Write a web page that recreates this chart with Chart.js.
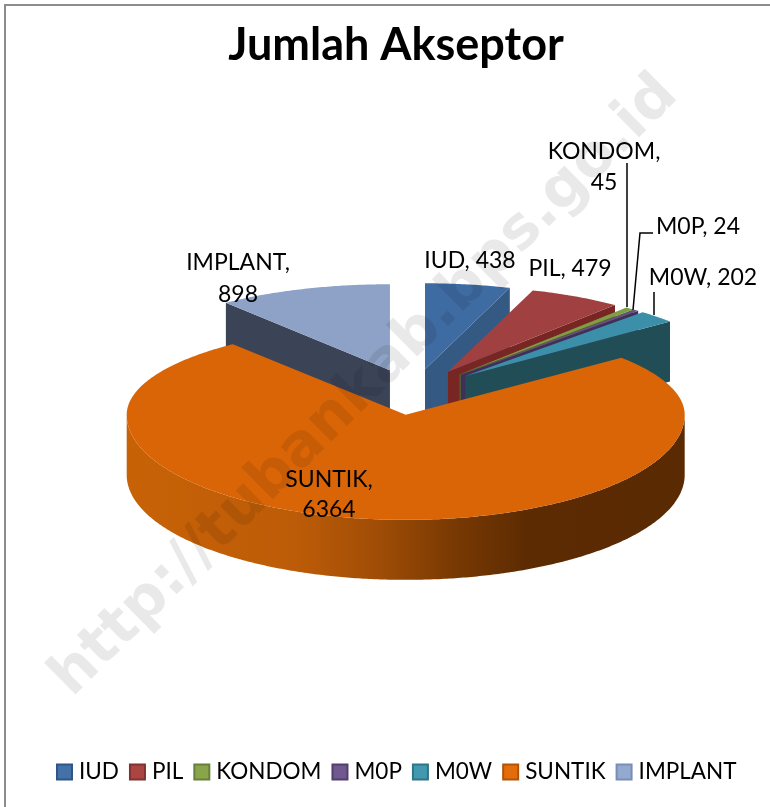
<!DOCTYPE html>
<html>
<head>
<meta charset="utf-8">
<title>Jumlah Akseptor</title>
<script src="https://cdn.jsdelivr.net/npm/chart.js@4"></script>
<style>
  html, body { margin: 0; padding: 0; background: #fff; }
  canvas { display: block; }
</style>
</head>
<body>
<canvas id="pieChart" width="770" height="807"></canvas>
<script>
'use strict';

const chartTitle = 'Jumlah Akseptor';
const watermark = 'http://tubankab.bps.go.id';
const categories = ['IUD', 'PIL', 'KONDOM', 'M0P', 'M0W', 'SUNTIK', 'IMPLANT'];
const values = [438, 479, 45, 24, 202, 6364, 898];

const legendColors = ['#4472a8', '#ab4542', '#89a54c', '#71588f', '#4198af', '#e46c0a', '#93a9cf'];
const legendBorders = ['#2f5485', '#803230', '#668039', '#533f6c', '#2e7487', '#b0540a', '#7a8eb5'];
const topColors = ['#3f6ba3', '#a04040', '#7f9d45', '#674f87', '#3c8fa8', '#d96507', '#8da2c6'];
const wallColors = ['#345a84', '#772624', '#50652a', '#412f5a', '#214d57', '#5c2b02', '#3b4356'];

// Pie geometry: everything else comes from the arc elements
const PIE = {
  cx: 413.4, cy: 392,
  explodeX: 71.6, explodeY: 23,
  radius: 265, backRy: 86, depth: 60,
  frontRadius: 279, frontBackRy: 90, frontRy: 105
};

// Where each data label sits; text itself is built from categories and values
const labelSpots = {
  IUD: { x: 470, y: 261 },
  PIL: { x: 570, y: 269 },
  KONDOM: { x: 604, y: 152, wrap: 31 },
  M0P: { x: 698, y: 227 },
  M0W: { x: 703, y: 278 },
  SUNTIK: { x: 329, y: 480, wrap: 30 },
  IMPLANT: { x: 238, y: 263, wrap: 32 }
};

function edgePoint(s, a) {
  return { x: s.ax + s.rx * Math.cos(a), y: s.ay + (Math.sin(a) < 0 ? s.ryBack : s.ryFront) * Math.sin(a) };
}

function sliceShape(arc) {
  const mid = (arc.startAngle + arc.endAngle) / 2;
  const front = Math.sin(mid) > 0;
  return {
    start: arc.startAngle,
    end: arc.endAngle,
    ax: PIE.cx + PIE.explodeX * Math.cos(mid),
    ay: PIE.cy + PIE.explodeY * Math.sin(mid),
    rx: front ? PIE.frontRadius : arc.outerRadius,
    ryBack: front ? PIE.frontBackRy : PIE.backRy,
    ryFront: front ? PIE.frontRy : PIE.backRy
  };
}

function fillSector(ctx, s, color) {
  ctx.beginPath();
  ctx.moveTo(s.ax, s.ay);
  for (let a = s.start; a < s.end; a += 0.01) {
    const p = edgePoint(s, a);
    ctx.lineTo(p.x, p.y);
  }
  const last = edgePoint(s, s.end);
  ctx.lineTo(last.x, last.y);
  ctx.closePath();
  ctx.fillStyle = color;
  ctx.fill();
}

function fillRadialWall(ctx, s, angle, color) {
  const p = edgePoint(s, angle);
  ctx.beginPath();
  ctx.moveTo(s.ax, s.ay);
  ctx.lineTo(p.x, p.y);
  ctx.lineTo(p.x, p.y + PIE.depth);
  ctx.lineTo(s.ax, s.ay + PIE.depth);
  ctx.closePath();
  ctx.fillStyle = color;
  ctx.fill();
}

function fillOuterWall(ctx, s) {
  const pts = [];
  for (let a = s.start; a <= s.end; a += 0.01) {
    if (Math.sin(a) >= 0) pts.push(edgePoint(s, a));
  }
  if (!pts.length) return;
  const grad = ctx.createLinearGradient(s.ax - s.rx, 0, s.ax + s.rx, 0);
  grad.addColorStop(0, '#c76206');
  grad.addColorStop(0.3, '#bd5c08');
  grad.addColorStop(0.45, '#a04d06');
  grad.addColorStop(0.58, '#7a3a03');
  grad.addColorStop(0.72, '#5c2b02');
  grad.addColorStop(1, '#5a2a03');
  ctx.beginPath();
  pts.forEach((p, i) => (i ? ctx.lineTo(p.x, p.y) : ctx.moveTo(p.x, p.y)));
  pts.slice().reverse().forEach(p => ctx.lineTo(p.x, p.y + PIE.depth));
  ctx.closePath();
  ctx.fillStyle = grad;
  ctx.fill();
}

function drawWatermark(ctx) {
  ctx.save();
  ctx.translate(72, 698);
  ctx.rotate(-0.78);
  ctx.font = 'bold 59px "DejaVu Sans"';
  ctx.textAlign = 'left';
  ctx.textBaseline = 'alphabetic';
  ctx.fillStyle = 'rgba(0,0,0,0.085)';
  ctx.fillText(watermark, 0, 0);
  ctx.restore();
}

function drawLabels(ctx) {
  ctx.font = '23px Lato';
  ctx.textAlign = 'center';
  ctx.textBaseline = 'middle';
  ctx.fillStyle = '#000';
  categories.forEach((name, i) => {
    const spot = labelSpots[name];
    if (spot.wrap) {
      ctx.fillText(name + ',', spot.x, spot.y);
      ctx.fillText(String(values[i]), spot.x, spot.y + spot.wrap);
    } else {
      ctx.fillText(name + ', ' + values[i], spot.x, spot.y);
    }
  });
  // leader lines for the thin slices
  ctx.strokeStyle = '#000';
  ctx.lineWidth = 1.5;
  ctx.beginPath();
  ctx.moveTo(627, 163); ctx.lineTo(627, 307);
  ctx.moveTo(653, 233); ctx.lineTo(640, 233); ctx.lineTo(633, 310);
  ctx.moveTo(654, 292); ctx.lineTo(654, 315);
  ctx.stroke();
}

// Chart.js ties the box-to-text gap to the font size, the original is tighter
function drawLegend(ctx) {
  let x = 57;
  const y = 772;
  ctx.font = '22.5px Lato';
  ctx.textAlign = 'left';
  ctx.textBaseline = 'middle';
  categories.forEach((name, i) => {
    ctx.fillStyle = legendColors[i];
    ctx.strokeStyle = legendBorders[i];
    ctx.lineWidth = 2;
    ctx.fillRect(x, y - 7.5, 15, 15);
    ctx.strokeRect(x, y - 7.5, 15, 15);
    x += 22;
    ctx.fillStyle = '#000';
    ctx.fillText(name, x, y);
    x += ctx.measureText(name).width + 11;
  });
}

function drawFrame(ctx) {
  ctx.strokeStyle = '#8c8c8c';
  ctx.lineWidth = 2;
  ctx.beginPath();
  ctx.moveTo(5, 807); ctx.lineTo(5, 5); ctx.lineTo(770, 5);
  ctx.stroke();
}

const pie3d = {
  id: 'pie3d',
  beforeDatasetsDraw(chart) {
    const ctx = chart.ctx;
    const arcs = chart.getDatasetMeta(0).data;
    // back to front: IMPLANT first, SUNTIK last
    const order = [6, 0, 1, 2, 3, 4, 5];
    ctx.save();
    drawFrame(ctx);
    order.forEach(i => {
      const s = sliceShape(arcs[i]);
      if (Math.cos(s.start) < -0.001) fillRadialWall(ctx, s, s.start, wallColors[i]);
      if (Math.cos(s.end) > 0.001) fillRadialWall(ctx, s, s.end, wallColors[i]);
      fillOuterWall(ctx, s);
      fillSector(ctx, s, topColors[i]);
    });
    drawWatermark(ctx);
    drawLabels(ctx);
    drawLegend(ctx);
    ctx.restore();
    return false;
  }
};

new Chart(document.getElementById('pieChart'), {
  type: 'pie',
  data: {
    labels: categories,
    datasets: [{
      data: values,
      backgroundColor: legendColors,
      borderColor: legendBorders,
      borderWidth: 2,
      radius: PIE.radius
    }]
  },
  plugins: [pie3d],
  options: {
    responsive: false,
    animation: false,
    layout: { padding: { left: 22 } },
    plugins: {
      tooltip: { enabled: false },
      legend: { display: false },
      title: {
        display: true,
        text: chartTitle,
        color: '#000',
        font: { family: 'Lato', size: 45, weight: 'bold' },
        padding: { top: 18, bottom: 10 }
      }
    }
  }
});
</script>
</body>
</html>
